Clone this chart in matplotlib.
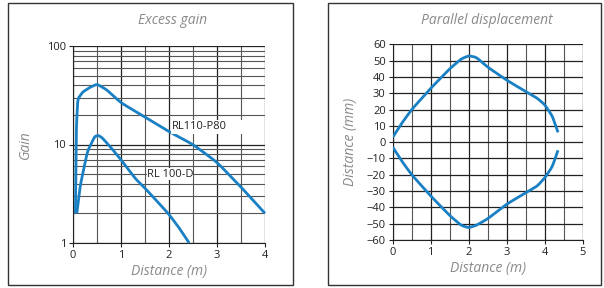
import matplotlib
matplotlib.use("Agg")
import matplotlib.pyplot as plt
from matplotlib.patches import Rectangle
from matplotlib.ticker import FixedLocator, NullFormatter
import numpy as np

plt.rcParams['font.family'] = ['Open Sans', 'DejaVu Sans']

# Excess gain data
p80_x = [0.05, 0.07, 0.1, 0.2, 0.35, 0.5, 0.7, 1.0, 1.5, 2.0, 2.5, 3.0, 3.5, 4.0]
p80_y = [2.0, 15, 29, 34, 38, 41, 36, 26.5, 19, 13.5, 10, 6.6, 3.7, 2.0]
d_x = [0.08, 0.15, 0.3, 0.45, 0.52, 0.6, 0.8, 1.0, 1.3, 1.5, 1.8, 2.0, 2.2, 2.42]
d_y = [2.0, 3.8, 8.5, 12.0, 12.4, 11.8, 9.2, 7.0, 4.5, 3.6, 2.5, 1.95, 1.45, 1.0]
gain_labels = ["RL110-P80", "RL 100-D"]

# Parallel displacement data
up_x = [0.0, 0.25, 0.5, 1.0, 1.5, 1.8, 2.0, 2.2, 2.5, 3.0, 3.5, 3.8, 4.0, 4.2, 4.35]
up_y = [3, 12, 20, 33, 45, 51, 53, 52, 46, 38, 31, 27, 23, 16, 6]
lo_x = [0.0, 0.25, 0.5, 1.0, 1.5, 1.8, 2.0, 2.2, 2.5, 3.0, 3.5, 3.8, 4.0, 4.2, 4.35]
lo_y = [-3, -12, -20, -33, -45, -51, -52.5, -51, -47, -38, -31, -27, -22, -15, -5]

blue = '#1a80c4'
gray_txt = '#8a8a8a'

fig = plt.figure(figsize=(6.04, 2.88), dpi=100)

# frames
W, H = 604, 288
for (x0, y0, x1, y1) in [(8, 3, 293, 285), (328, 3, 601, 285)]:
    fig.patches.append(Rectangle((x0 / W, 1 - y1 / H), (x1 - x0) / W, (y1 - y0) / H,
                                 transform=fig.transFigure, fill=False,
                                 edgecolor='#333333', linewidth=1.0))

def smooth(x, y, n=200, log=False):
    x = np.asarray(x, float); y = np.asarray(y, float)
    t = np.linspace(0, 1, len(x))
    tt = np.linspace(0, 1, n)
    yy = np.log10(y) if log else y
    xs = np.interp(tt, t, x)
    ys = np.interp(tt, t, yy)
    k = 7
    ker = np.ones(k) / k
    xs_p = np.concatenate([[xs[0]] * (k // 2), xs, [xs[-1]] * (k // 2)])
    ys_p = np.concatenate([[ys[0]] * (k // 2), ys, [ys[-1]] * (k // 2)])
    xs = np.convolve(xs_p, ker, mode='valid')
    ys = np.convolve(ys_p, ker, mode='valid')
    xs[0], ys[0] = x[0], yy[0]
    xs[-1], ys[-1] = x[-1], yy[-1]
    if log:
        ys = 10 ** ys
    return xs, ys

# Left axes
ax1 = fig.add_axes([73 / W, 1 - 243 / H, 192 / W, 197 / H])
ax1.set_yscale('log')
ax1.set_xlim(0, 4)
ax1.set_ylim(1, 100)
ax1.set_xticks([0, 1, 2, 3, 4])
ax1.xaxis.set_minor_locator(FixedLocator([0.5, 1.5, 2.5, 3.5]))
ax1.set_yticks([1, 10, 100])
ax1.set_yticklabels(['1', '10', '100'])
ax1.yaxis.set_minor_formatter(NullFormatter())
ax1.grid(True, which='major', color='#222222', linewidth=0.9)
ax1.grid(True, which='minor', color='#555555', linewidth=0.8)
ax1.tick_params(which='minor', length=0)
ax1.tick_params(which='major', length=3, labelsize=8, colors='#222222', pad=2)
for s in ['top', 'right']:
    ax1.spines[s].set_visible(False)
for s in ['left', 'bottom']:
    ax1.spines[s].set_color('#222222')
ax1.set_axisbelow(True)
xs, ys = smooth(p80_x, p80_y, log=True)
ax1.plot(xs, ys, color=blue, lw=2.0, solid_capstyle='butt', zorder=3, clip_on=False)
xs, ys = smooth(d_x, d_y, log=True)
ax1.plot(xs, ys, color=blue, lw=2.0, solid_capstyle='butt', zorder=3, clip_on=False)
# white label backgrounds
ax1.add_patch(Rectangle((2.04, 12.9), 1.93, 17.6 - 12.9, fc='white', ec='none', zorder=4))
ax1.add_patch(Rectangle((1.55, 4.35), 0.95, 5.75 - 4.35, fc='white', ec='none', zorder=4))
ax1.text(2.63, 15.1, gain_labels[0], fontsize=8, ha='center', va='center', zorder=5, color='#222222')
ax1.text(2.03, 5.0, gain_labels[1], fontsize=8, ha='center', va='center', zorder=5, color='#222222')
ax1.set_xlabel('Distance (m)', fontsize=10, style='italic', color=gray_txt, labelpad=2)
ax1.set_ylabel('Gain', fontsize=10, style='italic', color=gray_txt, labelpad=10)
fig.text(173 / W, 1 - 21 / H, 'Excess gain', fontsize=10, style='italic', color=gray_txt,
         ha='center', va='center')

# Right axes
ax2 = fig.add_axes([392.7 / W, 1 - 240 / H, 190 / W, 195.7 / H])
ax2.set_xlim(0, 5)
ax2.set_ylim(-60, 60)
ax2.set_xticks([0, 1, 2, 3, 4, 5])
ax2.xaxis.set_minor_locator(FixedLocator([0.5, 1.5, 2.5, 3.5, 4.5]))
ax2.set_yticks(list(range(-60, 61, 10)))
ax2.grid(True, which='major', color='#222222', linewidth=0.9)
ax2.grid(True, which='minor', axis='x', color='#555555', linewidth=0.8)
ax2.tick_params(which='minor', length=0)
ax2.tick_params(which='major', length=3, labelsize=8, colors='#222222', pad=2)
for s in ['top', 'right']:
    ax2.spines[s].set_visible(False)
for s in ['left', 'bottom']:
    ax2.spines[s].set_color('#222222')
ax2.set_axisbelow(True)
xs, ys = smooth(up_x, up_y)
ax2.plot(xs, ys, color=blue, lw=2.0, solid_capstyle='butt', zorder=3)
xs, ys = smooth(lo_x, lo_y)
ax2.plot(xs, ys, color=blue, lw=2.0, solid_capstyle='butt', zorder=3)
ax2.set_xlabel('Distance (m)', fontsize=10, style='italic', color=gray_txt, labelpad=2)
ax2.set_ylabel('Distance (mm)', fontsize=10, style='italic', color=gray_txt, labelpad=6)
fig.text(487 / W, 1 - 21 / H, 'Parallel displacement', fontsize=10, style='italic', color=gray_txt,
         ha='center', va='center')

fig.savefig('out.png', dpi=100)
